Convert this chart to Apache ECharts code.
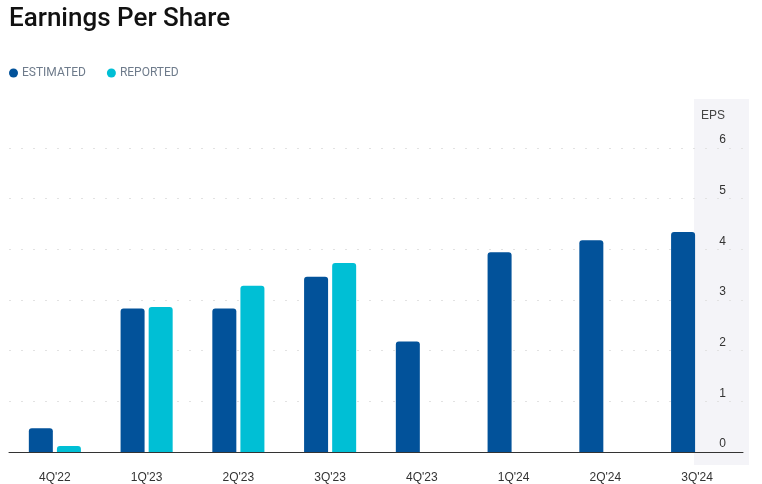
<!DOCTYPE html>
<html><head><meta charset="utf-8">
<script src="https://cdn.jsdelivr.net/npm/echarts@6/dist/echarts.min.js"></script>
<style>html,body{margin:0;padding:0;background:#fff}#c{width:762px;height:484px}</style>
</head><body><div id="c"></div>
<script>
const categories = ["4Q'22","1Q'23","2Q'23","3Q'23","4Q'23","1Q'24","2Q'24","3Q'24"];
const estimated = [0.47, 2.83, 2.83, 3.46, 2.18, 3.94, 4.18, 4.34];
const reported = [0.12, 2.86, 3.28, 3.73, null, null, null, null];
const yTicks = [0, 1, 2, 3, 4, 5, 6];

const chart = echarts.init(document.getElementById('c'));
chart.setOption({
  animation: false,
  title: { text: 'Earnings Per Share', left: 4, top: 1,
    textStyle: { fontFamily: 'Roboto', fontSize: 26, fontWeight: 500, color: '#111' } },
  legend: { left: 4, top: 62, icon: 'circle', itemWidth: 9, itemHeight: 9, itemGap: 21,
    textStyle: { fontFamily: 'Roboto', fontSize: 12, color: '#6e7b8b', padding: [0,0,0,-1] },
    data: ['ESTIMATED', 'REPORTED'] },
  graphic: [{ type: 'rect', z: -10, silent: true,
    shape: { x: 694, y: 99, width: 55, height: 366 }, style: { fill: '#f4f4f8' } }],
  grid: { left: 9, right: 19, top: 148, bottom: 30, containLabel: false },
  xAxis: { type: 'category', data: categories,
    axisLine: { lineStyle: { color: '#333', width: 1 } }, axisTick: { show: false },
    axisLabel: { color: '#333', fontFamily: 'Arial', fontSize: 12, margin: 20 } },
  yAxis: { type: 'value', position: 'right', min: yTicks[0], max: yTicks[yTicks.length-1], interval: 1,
    name: 'EPS', nameLocation: 'end', nameGap: 26,
    nameTextStyle: { color: '#444', fontFamily: 'Arial', fontSize: 12, align: 'right', padding: [0, 18, 0, 0] },
    axisLine: { show: false }, axisTick: { show: false },
    axisLabel: { inside: true, margin: 17, color: '#333', fontFamily: 'Arial', fontSize: 12,
      verticalAlign: 'bottom', padding: [0, 0, 2, 0] },
    splitLine: { lineStyle: { color: '#e2e2e2', type: [2, 10], width: 1 } } },
  series: [
    { name: 'ESTIMATED', type: 'bar', data: estimated, barWidth: 24, barGap: '17%',
      itemStyle: { color: '#02529a', borderRadius: [3, 3, 0, 0] } },
    { name: 'REPORTED', type: 'bar', data: reported, barWidth: 24,
      itemStyle: { color: '#00bfd5', borderRadius: [3, 3, 0, 0] } }
  ]
});
</script></body></html>
